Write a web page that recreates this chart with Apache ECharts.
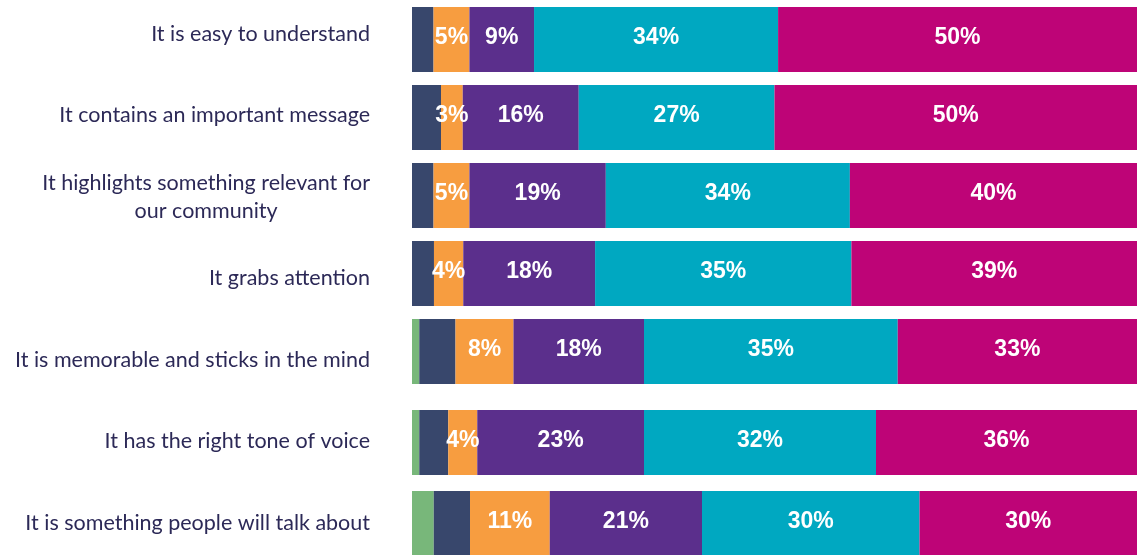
<!DOCTYPE html>
<html>
<head>
<meta charset="utf-8">
<script src="https://cdn.jsdelivr.net/npm/echarts@6/dist/echarts.min.js"></script>
<style>
html,body{margin:0;padding:0;background:#fff;}
#chart{width:1145px;height:555px;}
</style>
</head>
<body>
<div id="chart"></div>
<script>
const categories = [
  "It is easy to understand",
  "It contains an important message",
  "It highlights something relevant for\nour community",
  "It grabs attention",
  "It is memorable and sticks in the mind",
  "It has the right tone of voice",
  "It is something people will talk about"
];
// Unlabelled segments
const green   = [0, 0, 0, 0, 1, 1, 3];
const navy    = [3, 4, 3, 3, 5, 4, 5];
const orange  = [5, 3, 5, 4, 8, 4, 11];
const purple  = [9, 16, 19, 18, 18, 23, 21];
const teal    = [34, 27, 34, 35, 35, 32, 30];
const magenta = [50, 50, 40, 39, 33, 36, 30];

const seriesDefs = [
  {name: "green",   data: green,   color: "#78b77a", label: false},
  {name: "navy",    data: navy,    color: "#38476c", label: false},
  {name: "orange",  data: orange,  color: "#f79d40", label: true},
  {name: "purple",  data: purple,  color: "#5b2f8c", label: true},
  {name: "teal",    data: teal,    color: "#00a8c1", label: true},
  {name: "magenta", data: magenta, color: "#be0477", label: true}
];

const totals = categories.map((_, i) => seriesDefs.reduce((s, d) => s + d.data[i], 0));

const labelFont = "Lato, 'Open Sans', sans-serif";
const labelColor = "#2c2957";

// grid 0 only carries the (evenly spaced) category labels
const grid = [{left: 412, right: 8, top: -6.75, height: 570.5, outerBoundsMode: "none", containLabel: false}];
const xAxis = [{type: "value", gridIndex: 0, min: 0, max: 100, show: false}];
const yAxis = [{
  type: "category", gridIndex: 0, inverse: true, data: categories,
  axisLine: {show: false}, axisTick: {show: false}, splitLine: {show: false},
  axisLabel: {
    margin: 42, color: labelColor, fontSize: 21.5, lineHeight: 28,
    fontFamily: labelFont, align: "right",
    formatter: v => v.indexOf("\n") < 0 ? v : v.split("\n").map(l => "{c|" + l + "}").join("\n"),
    rich: {c: {align: "center", fontSize: 21.5, lineHeight: 28, fontFamily: labelFont, color: labelColor}}
  }
}];
const series = [];

// bar groups (the reference has a wider gap before the last two rows)
const groups = [
  {rows: [0, 1, 2, 3, 4], top: 0.5, height: 390},
  {rows: [5, 6], top: 402, height: 162}
];

groups.forEach((g, k) => {
  const gi = k + 1;
  grid.push({left: 412, right: 8, top: g.top, height: g.height, outerBoundsMode: "none", containLabel: false});
  xAxis.push({type: "value", gridIndex: gi, min: 0, max: 100, show: false});
  yAxis.push({
    type: "category", gridIndex: gi, inverse: true,
    data: g.rows.map(r => categories[r]),
    axisLine: {show: false}, axisTick: {show: false}, axisLabel: {show: false}
  });
  seriesDefs.forEach(d => {
    series.push({
      type: "bar", name: d.name, stack: "s" + gi,
      xAxisIndex: gi, yAxisIndex: gi, barWidth: 65,
      itemStyle: {color: d.color},
      data: g.rows.map(r => ({value: d.data[r] / totals[r] * 100, raw: d.data[r]})),
      label: {
        show: d.label, position: "inside", color: "#fff", offset: [0, -2],
        fontSize: 23, fontWeight: "bold",
        fontFamily: "'Liberation Sans', Arial, sans-serif",
        formatter: p => p.data.raw + "%"
      },
      emphasis: {disabled: true},
      animation: false
    });
  });
});

const chart = echarts.init(document.getElementById("chart"));
chart.setOption({animation: false, grid, xAxis, yAxis, series});
</script>
</body>
</html>
